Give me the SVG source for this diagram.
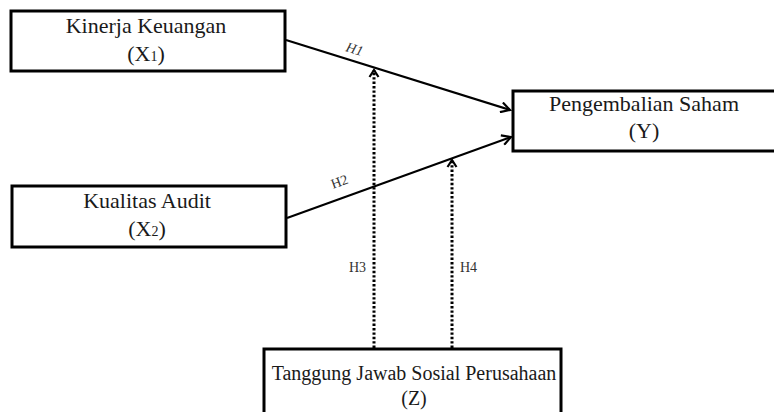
<svg xmlns="http://www.w3.org/2000/svg" width="774" height="412" viewBox="0 0 774 412">
<style>
.box{fill:#fff;stroke:#000;stroke-width:3}
.t{font-family:'Liberation Serif','Times New Roman',Times,serif;font-size:22px;fill:#1a1a1a;text-anchor:middle}
.tz{font-size:20px}
.sub{font-size:14px}
.lbl{font-family:'Liberation Serif','Times New Roman',Times,serif;font-size:14px;fill:#333}
.solid{stroke:#000;stroke-width:2.2;fill:none}
.dot{stroke:#000;stroke-width:3;stroke-dasharray:2.4 2;fill:none}
</style>
<defs>
<marker id="ah" markerWidth="12" markerHeight="12" refX="10" refY="6" orient="auto" markerUnits="userSpaceOnUse">
<path d="M1,1 L10,6 L1,11" fill="none" stroke="#000" stroke-width="2.2"/>
</marker>
<marker id="ahd" markerWidth="12" markerHeight="12" refX="8" refY="6" orient="auto" markerUnits="userSpaceOnUse">
<path d="M1,1.5 L8,6 L1,10.5" fill="none" stroke="#000" stroke-width="2.2"/>
</marker>
</defs>
<rect width="774" height="412" fill="#fff"/>
<g id="connectors">
<line class="solid" x1="286" y1="40" x2="510" y2="110" marker-end="url(#ah)"/>
<line class="solid" x1="287" y1="218" x2="511" y2="137" marker-end="url(#ah)"/>
<line class="dot" x1="374" y1="348" x2="374" y2="70" marker-end="url(#ahd)"/>
<line class="dot" x1="452" y1="348" x2="452" y2="160" marker-end="url(#ahd)"/>
<text class="lbl" font-style="italic" transform="translate(345,51) rotate(17)">H1</text>
<text class="lbl" transform="translate(333,189) rotate(-20)">H2</text>
<text class="lbl" x="349" y="272">H3</text>
<text class="lbl" x="460" y="272">H4</text>
</g>
<g id="x1">
<rect class="box" x="11" y="11" width="274" height="60"/>
<text class="t" x="146" y="33">Kinerja Keuangan</text>
<text class="t" x="146" y="61">(X<tspan class="sub">1</tspan>)</text>
</g>
<g id="x2">
<rect class="box" x="12" y="186" width="274" height="61"/>
<text class="t" x="147" y="208">Kualitas Audit</text>
<text class="t" x="147" y="236">(X<tspan class="sub">2</tspan>)</text>
</g>
<g id="y">
<rect class="box" x="513" y="91" width="270" height="60"/>
<text class="t" x="644" y="111">Pengembalian Saham</text>
<text class="t" x="644" y="138">(Y)</text>
</g>
<g id="z">
<rect class="box" x="264" y="349" width="297" height="75"/>
<text class="t tz" x="414" y="380">Tanggung Jawab Sosial Perusahaan</text>
<text class="t tz" x="414" y="405">(Z)</text>
</g>
</svg>
